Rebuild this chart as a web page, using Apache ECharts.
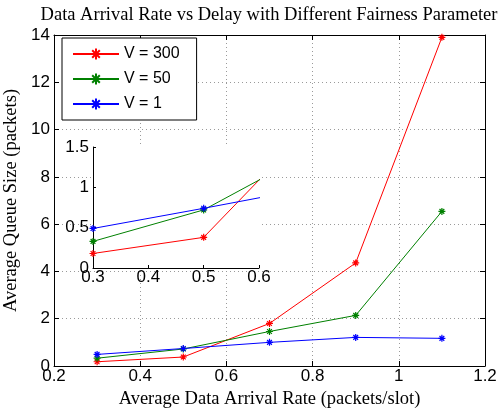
<!DOCTYPE html>
<html>
<head>
<meta charset="utf-8">
<script src="https://cdn.jsdelivr.net/npm/echarts@6/dist/echarts.min.js"></script>
<style>html,body{margin:0;padding:0;background:#fff}#c{width:501px;height:409px}</style>
</head>
<body>
<div id="c"></div>
<script>
const rates = [0.3, 0.5, 0.7, 0.9, 1.1];
const v300 = [0.18, 0.38, 1.8, 4.36, 13.9];
const v50 = [0.33, 0.72, 1.46, 2.14, 6.54];
const v1 = [0.49, 0.74, 1.0, 1.21, 1.17];
const seriesNames = ['V = 300', 'V = 50', 'V = 1'];
const seriesColors = ['#ff0000', '#008000', '#0000ff'];
const titleText = 'Data Arrival Rate vs Delay with Different Fairness Parameter';
const xName = 'Average Data Arrival Rate (packets/slot)';
const yName = 'Average Queue Size (packets)';

const star = 'path://M5,0 L5,10 M0,5 L10,5 M1.6,1.6 L8.4,8.4 M1.6,8.4 L8.4,1.6';
const sans = 'Liberation Sans';
const serif = 'Liberation Serif';
const pair = (xs, ys) => xs.map((x, i) => [x, ys[i]]);
const allData = [v300, v50, v1];

const chart = echarts.init(document.getElementById('c'), null, {renderer: 'canvas'});

const tickLbl = {color: '#000', fontFamily: sans, fontSize: 17};
const splitDot = {show: true, lineStyle: {color: '#9a9a9a', type: [1, 3], width: 1}};

const series = [];
allData.forEach((d, i) => {
  series.push({
    name: seriesNames[i], type: 'line', xAxisIndex: 0, yAxisIndex: 0,
    data: pair(rates, d), symbol: star, symbolSize: 7,
    lineStyle: {color: seriesColors[i], width: 1},
    itemStyle: {color: seriesColors[i], borderColor: seriesColors[i], borderWidth: 1.2},
    z: 3, animation: false
  });
});
allData.forEach((d, i) => {
  series.push({
    name: seriesNames[i] + ' (inset)', type: 'line', xAxisIndex: 2, yAxisIndex: 2,
    data: pair(rates, d), symbol: star, symbolSize: 7, clip: true,
    lineStyle: {color: seriesColors[i], width: 1},
    itemStyle: {color: seriesColors[i], borderColor: seriesColors[i], borderWidth: 1.2},
    z: 12, animation: false
  });
});

chart.setOption({
  animation: false,
  backgroundColor: '#fff',
  graphic: [{
    type: 'text', x: 269, y: 15, z: 30,
    style: {text: titleText, fontFamily: serif, fontSize: 18.5, fill: '#000',
            textAlign: 'center', textVerticalAlign: 'middle'}
  }],
  legend: {
    data: seriesNames, orient: 'vertical', left: 62, top: 38,
    padding: [8, 17, 8, 10], itemGap: 9, itemWidth: 46, itemHeight: 14,
    backgroundColor: '#fff', borderColor: '#000', borderWidth: 1,
    textStyle: {fontFamily: sans, fontSize: 16, color: '#000'},
    z: 20
  },
  grid: [
    {left: 54, right: 16, top: 35, bottom: 43, show: false, outerBoundsMode: 'none', containLabel: false},
    {left: 93, top: 147, width: 166, height: 121, show: true, backgroundColor: '#fff', borderWidth: 0, z: 10, outerBoundsMode: 'none', containLabel: false}
  ],
  xAxis: [
    {type: 'value', gridIndex: 0, min: 0.2, max: 1.2, interval: 0.2, position: 'bottom',
     name: xName, nameLocation: 'middle', nameGap: 21,
     nameTextStyle: {fontFamily: serif, fontSize: 18.5, color: '#000'},
     axisLine: {show: true, onZero: false, lineStyle: {color: '#000', width: 1}},
     axisTick: {show: true, inside: true, length: 5, lineStyle: {color: '#000'}},
     axisLabel: Object.assign({margin: 2}, tickLbl),
     splitLine: splitDot},
    {type: 'value', gridIndex: 0, min: 0.2, max: 1.2, interval: 0.2, position: 'top',
     axisLine: {show: true, onZero: false, lineStyle: {color: '#000', width: 1}},
     axisTick: {show: true, inside: true, length: 5, lineStyle: {color: '#000'}},
     axisLabel: {show: false}, splitLine: {show: false}},
    {type: 'value', gridIndex: 1, min: 0.3, max: 0.6, interval: 0.1, position: 'bottom',
     axisLine: {show: true, onZero: false, lineStyle: {color: '#000', width: 1}},
     axisTick: {show: true, inside: true, length: 3, lineStyle: {color: '#000'}},
     axisLabel: Object.assign({margin: 1}, tickLbl),
     splitLine: {show: false}, z: 11}
  ],
  yAxis: [
    {type: 'value', gridIndex: 0, min: 0, max: 14, interval: 2, position: 'left',
     name: yName, nameLocation: 'middle', nameGap: 28, nameRotate: 90,
     nameTextStyle: {fontFamily: serif, fontSize: 18.5, color: '#000'},
     axisLine: {show: true, onZero: false, lineStyle: {color: '#000', width: 1}},
     axisTick: {show: true, inside: true, length: 5, lineStyle: {color: '#000'}},
     axisLabel: Object.assign({margin: 4}, tickLbl),
     splitLine: splitDot},
    {type: 'value', gridIndex: 0, min: 0, max: 14, interval: 2, position: 'right',
     axisLine: {show: true, onZero: false, lineStyle: {color: '#000', width: 1}},
     axisTick: {show: true, inside: true, length: 5, lineStyle: {color: '#000'}},
     axisLabel: {show: false}, splitLine: {show: false}},
    {type: 'value', gridIndex: 1, min: 0, max: 1.5, interval: 0.5, position: 'left',
     axisLine: {show: true, onZero: false, lineStyle: {color: '#000', width: 1}},
     axisTick: {show: true, inside: true, length: 3, lineStyle: {color: '#000'}},
     axisLabel: Object.assign({margin: 4}, tickLbl),
     splitLine: {show: false}, z: 11}
  ],
  series: series
});
</script>
</body>
</html>
